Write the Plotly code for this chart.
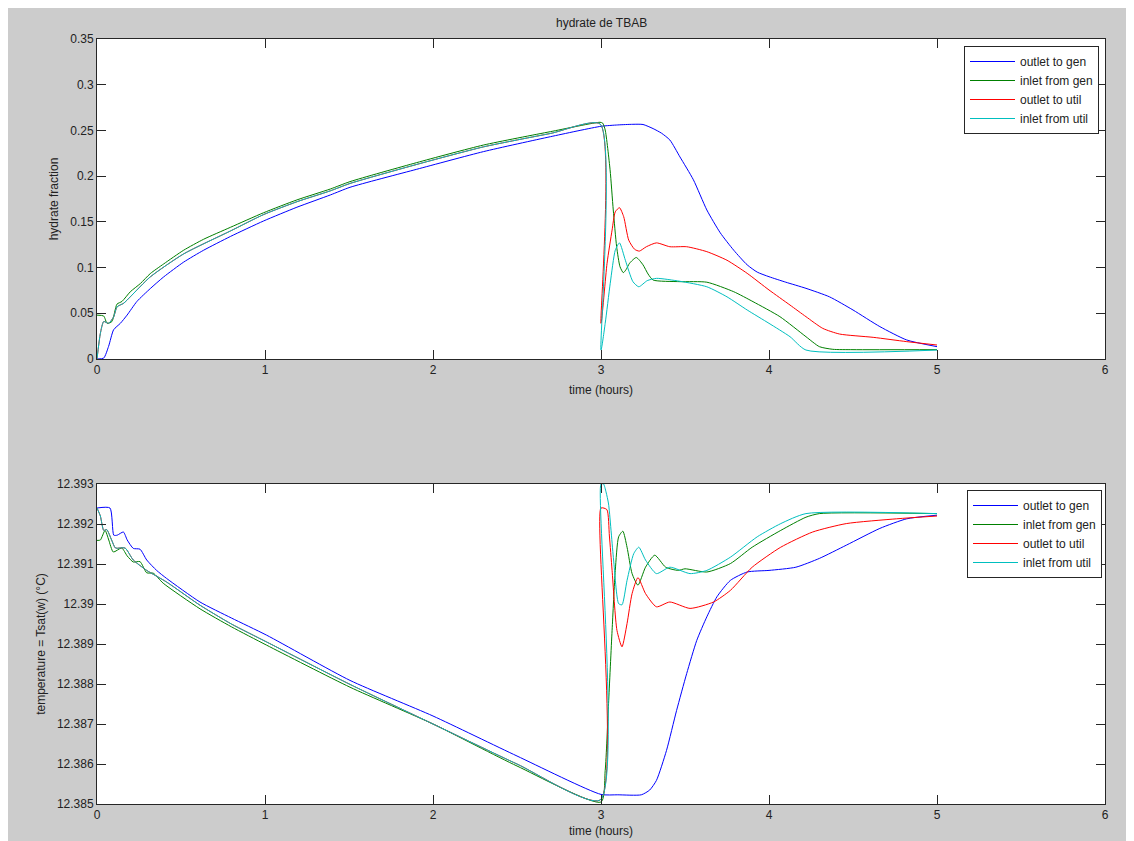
import plotly.graph_objects as go

# ---------------- data: hydrate fraction (top panel) ----------------
gen_out_t = [0, 0.04, 0.069, 0.099, 0.139, 0.179, 0.238, 0.317, 0.397, 0.516, 0.635, 0.794, 0.992, 1.19, 1.39,
             1.506, 1.903, 2.30, 2.70, 3.0, 3.1, 3.19, 3.25, 3.31, 3.36, 3.41, 3.47, 3.55, 3.63,
             3.71, 3.79, 3.87, 3.93, 4.0, 4.1, 4.22, 4.36, 4.5, 4.66, 4.82, 5.0]
gen_out_h = [0, 0.001, 0.0138, 0.032, 0.039, 0.048, 0.063, 0.077, 0.0898, 0.106, 0.119, 0.134, 0.151, 0.166,
             0.1795, 0.1878, 0.2075, 0.2268, 0.2432, 0.2545, 0.256, 0.2567, 0.2565, 0.252, 0.247,
             0.2395, 0.221, 0.196, 0.163, 0.138, 0.119, 0.103, 0.095, 0.090, 0.084, 0.0773, 0.068, 0.0536,
             0.0354, 0.0208, 0.0135]

gen_in_t = [0, 0.04, 0.06, 0.089, 0.119, 0.149, 0.198, 0.258, 0.317, 0.397, 0.516, 0.635, 0.794, 0.992, 1.19,
            1.39, 1.506, 1.903, 2.30, 2.70, 2.994, 3.01, 3.025, 3.054, 3.073, 3.093, 3.113, 3.133, 3.15,
            3.17, 3.21, 3.25, 3.28, 3.31, 3.47, 3.63, 3.79, 3.905, 4.065, 4.22, 4.3, 4.38, 4.5, 5.0]
gen_in_h = [0.048, 0.047, 0.039, 0.041, 0.060, 0.063, 0.0735, 0.0825, 0.0934, 0.104, 0.119, 0.131, 0.144,
            0.160, 0.174, 0.186, 0.194, 0.2148, 0.234, 0.2487, 0.2589, 0.258, 0.2505, 0.207, 0.163, 0.123,
            0.101, 0.0944, 0.098, 0.1047, 0.111, 0.103, 0.093, 0.0864, 0.0846, 0.084, 0.0736, 0.0627,
            0.0463, 0.0244, 0.0135, 0.0106, 0.0102, 0.0102]

# util loop before the switch at t = 3 h (outlet and inlet coincide)
util_pre_t = [0, 0.02, 0.04, 0.069, 0.099, 0.119, 0.159, 0.198, 0.317, 0.516, 0.794, 0.992, 1.19, 1.39, 1.506,
              1.903, 2.30, 2.70, 2.995]
util_pre_h = [0, 0.028, 0.041, 0.039, 0.046, 0.057, 0.061, 0.068, 0.0898, 0.115, 0.140, 0.158, 0.172, 0.184,
              0.192, 0.2128, 0.232, 0.2467, 0.257]

util_out_post_t = [3.0, 3.036, 3.066, 3.085, 3.11, 3.135, 3.165, 3.2, 3.228, 3.27, 3.33, 3.41, 3.51, 3.63,
                   3.75, 3.87, 4.0, 4.125, 4.22, 4.32, 4.42, 4.62, 4.82, 5.0]
util_out_post_h = [0.039, 0.1047, 0.141, 0.161, 0.1655, 0.1557, 0.130, 0.12, 0.118, 0.1228, 0.127, 0.1228,
                   0.1228, 0.1174, 0.108, 0.0937, 0.0755, 0.059, 0.0463, 0.0335, 0.0273, 0.0237, 0.019, 0.0153]

util_in_post_t = [3.0, 3.025, 3.055, 3.085, 3.11, 3.145, 3.19, 3.225, 3.275, 3.33, 3.47, 3.63, 3.75, 3.87,
                  4.0, 4.125, 4.22, 5.0]
util_in_post_h = [0.0098, 0.039, 0.0828, 0.119, 0.127, 0.108, 0.0846, 0.079, 0.0857, 0.0882, 0.085, 0.079,
                  0.068, 0.0536, 0.039, 0.0244, 0.0098, 0.0098]

# ---------------- data: temperature Tsat(w) (bottom panel) ----------------
gen_out_T_t = [0, 0.077, 0.1, 0.12, 0.157, 0.18, 0.216, 0.256, 0.296, 0.355, 0.414, 0.613, 0.8, 1.01, 1.506,
               2.0, 2.5, 3.0, 3.1, 3.24, 3.29, 3.33, 3.39, 3.45, 3.51, 3.57, 3.63, 3.69, 3.77, 3.87, 4.0,
               4.16, 4.3, 4.46, 4.66, 4.82, 5.0]
gen_out_T = [12.3924, 12.3924, 12.39172, 12.39172, 12.3918, 12.3916, 12.39139, 12.39137, 12.3911, 12.39084,
             12.39064, 12.39005, 12.38965, 12.38922, 12.38809, 12.3872, 12.3862, 12.38524, 12.38523,
             12.38523, 12.38535, 12.38559, 12.38634, 12.38734, 12.38826, 12.38909, 12.38968, 12.39018,
             12.39059, 12.3908, 12.39084, 12.39092, 12.39114, 12.39147, 12.39189, 12.39213, 12.39222]

gen_in_T_t = [0, 0.02, 0.048, 0.07, 0.097, 0.147, 0.18, 0.216, 0.256, 0.296, 0.335, 0.394, 0.613, 0.8, 1.01,
              1.506, 2.0, 2.5, 3.0, 3.025, 3.045, 3.066, 3.085, 3.105, 3.13, 3.155, 3.185, 3.22, 3.265,
              3.32, 3.385, 3.46, 3.5, 3.63, 3.77, 3.9, 4.07, 4.22, 4.3, 5.0]
gen_in_T = [12.39159, 12.3916, 12.39184, 12.3916, 12.3913, 12.3914, 12.3912, 12.39105, 12.39106, 12.39078,
            12.39077, 12.39052, 12.38988, 12.38943, 12.38897, 12.38792, 12.38700, 12.38595, 12.38505,
            12.38584, 12.38751, 12.38934, 12.39084, 12.39168, 12.39182, 12.39142, 12.39076, 12.39047,
            12.39092, 12.39122, 12.39092, 12.39084, 12.39088, 12.3908, 12.39101, 12.39142, 12.39184,
            12.39217, 12.39226, 12.39226]

util_pre_T_t = [0, 0.02, 0.04, 0.058, 0.087, 0.11, 0.167, 0.216, 0.296, 0.414, 0.613, 0.8, 1.01, 1.506, 2.0,
                2.5, 2.995]
util_pre_T = [12.3924, 12.3922, 12.39184, 12.39186, 12.3916, 12.3914, 12.3914, 12.3911, 12.39084, 12.39055,
              12.38997, 12.3895, 12.38905, 12.38799, 12.387, 12.386, 12.3851]

util_out_post_T_t = [3.0, 3.035, 3.05, 3.066, 3.095, 3.125, 3.155, 3.185, 3.22, 3.265, 3.33, 3.41, 3.53,
                     3.67, 3.77, 3.9, 4.07, 4.26, 4.46, 4.76, 5.0]
util_out_post_T = [12.3924, 12.39236, 12.3917, 12.39084, 12.38934, 12.38893, 12.38951, 12.39026, 12.39066,
                   12.39026, 12.38993, 12.39005, 12.38989, 12.39005, 12.39034, 12.39092, 12.39142, 12.3918,
                   12.39201, 12.39213, 12.3922]

util_in_post_T_t = [3.0, 3.015, 3.03, 3.045, 3.075, 3.105, 3.125, 3.155, 3.195, 3.225, 3.265, 3.33, 3.41,
                    3.53, 3.63, 3.77, 3.93, 4.07, 4.22, 5.0]
util_in_post_T = [12.3930, 12.3930, 12.3928, 12.3925, 12.3911, 12.39001, 12.38998, 12.39059, 12.39126,
                  12.39142, 12.3911, 12.39076, 12.39092, 12.39076, 12.39084, 12.39117, 12.39168, 12.39201,
                  12.39226, 12.39226]

series_names = ["outlet to gen", "inlet from gen", "outlet to util", "inlet from util"]
series_colors = ["#0000ff", "#008000", "#ff0000", "#00bfbf"]

x_ticks = [0, 1, 2, 3, 4, 5, 6]
h_ticks = [0, 0.05, 0.1, 0.15, 0.2, 0.25, 0.3, 0.35]
h_ticktext = ["0", "0.05", "0.1", "0.15", "0.2", "0.25", "0.3", "0.35"]
T_ticks = [12.385, 12.386, 12.387, 12.388, 12.389, 12.39, 12.391, 12.392, 12.393]
T_ticktext = ["12.385", "12.386", "12.387", "12.388", "12.389", "12.39", "12.391", "12.392", "12.393"]

# ---------------- figure ----------------
top_series = [
    (gen_out_t, gen_out_h),
    (gen_in_t, gen_in_h),
    (util_pre_t + util_out_post_t, util_pre_h + util_out_post_h),
    (util_pre_t + util_in_post_t, util_pre_h + util_in_post_h),
]
bot_series = [
    (gen_out_T_t, gen_out_T),
    (gen_in_T_t, gen_in_T),
    (util_pre_T_t + util_out_post_T_t, util_pre_T + util_out_post_T),
    (util_pre_T_t + util_in_post_T_t, util_pre_T + util_in_post_T),
]

fig = go.Figure()
for (tx, ty), name, col in zip(top_series, series_names, series_colors):
    fig.add_trace(go.Scatter(x=tx, y=ty, mode="lines", name=name,
                             line=dict(color=col, width=1.0, shape="spline", smoothing=0.6),
                             xaxis="x", yaxis="y", legend="legend"))
for (tx, ty), name, col in zip(bot_series, series_names, series_colors):
    fig.add_trace(go.Scatter(x=tx, y=ty, mode="lines", name=name,
                             line=dict(color=col, width=1.0, shape="spline", smoothing=0.6),
                             xaxis="x2", yaxis="y2", legend="legend2"))

# the page places the figure 8 px in from the top-left corner (browser body margin)
OFF = 8
W, H = 1134 - OFF, 841 - OFF
ML = 97 - OFF
MR = W - (1105 - OFF)
MT = 39 - OFF
MB = H - (804 - OFF)
plot_h = H - MT - MB


def py(ref_y):
    """reference page pixel row -> paper coordinate"""
    return (H - MB - (ref_y - OFF)) / plot_h


font = dict(family="Liberation Sans, Arial, Helvetica, sans-serif", size=12, color="#222222")
axis_common = dict(showline=True, linecolor="#262626", linewidth=1, mirror="ticks",
                   ticks="inside", ticklen=9, tickcolor="#262626", showgrid=False, zeroline=False,
                   tickfont=font, automargin=False)

fig.update_layout(
    width=W, height=H,
    margin=dict(l=ML, r=MR, t=MT, b=MB, autoexpand=False),
    paper_bgcolor="#cccccc", plot_bgcolor="#ffffff",
    font=font,
    showlegend=True,
    xaxis=dict(domain=[0, 1], anchor="y", range=[0, 6], tickvals=x_ticks,
               title=dict(text="time (hours)", font=font, standoff=9), **axis_common),
    yaxis=dict(domain=[py(359), 1], anchor="x", range=[0, 0.35], tickvals=h_ticks, ticktext=h_ticktext,
               title=dict(text="hydrate fraction", font=font, standoff=9), **axis_common),
    xaxis2=dict(domain=[0, 1], anchor="y2", range=[0, 6], tickvals=x_ticks,
                title=dict(text="time (hours)", font=font, standoff=5), **axis_common),
    yaxis2=dict(domain=[0, py(484)], anchor="x2", range=[12.385, 12.393], tickvals=T_ticks,
                ticktext=T_ticktext,
                title=dict(text="temperature = Tsat(w) (°C)", font=font, standoff=8), **axis_common),
    legend=dict(x=(1099 - 97) / (1105 - 97), y=py(46), xanchor="right", yanchor="top",
                bgcolor="#ffffff", bordercolor="#262626", borderwidth=1, font=font,
                tracegroupgap=0, itemwidth=45),
    legend2=dict(x=(1102 - 97) / (1105 - 97), y=py(490), xanchor="right", yanchor="top",
                 bgcolor="#ffffff", bordercolor="#262626", borderwidth=1, font=font,
                 tracegroupgap=0, itemwidth=45),
    annotations=[dict(text="hydrate de TBAB", xref="paper", yref="paper", x=0.5,
                      y=py(23), xanchor="center", yanchor="middle",
                      showarrow=False, font=font)],
)

fig.write_html("out.html")
